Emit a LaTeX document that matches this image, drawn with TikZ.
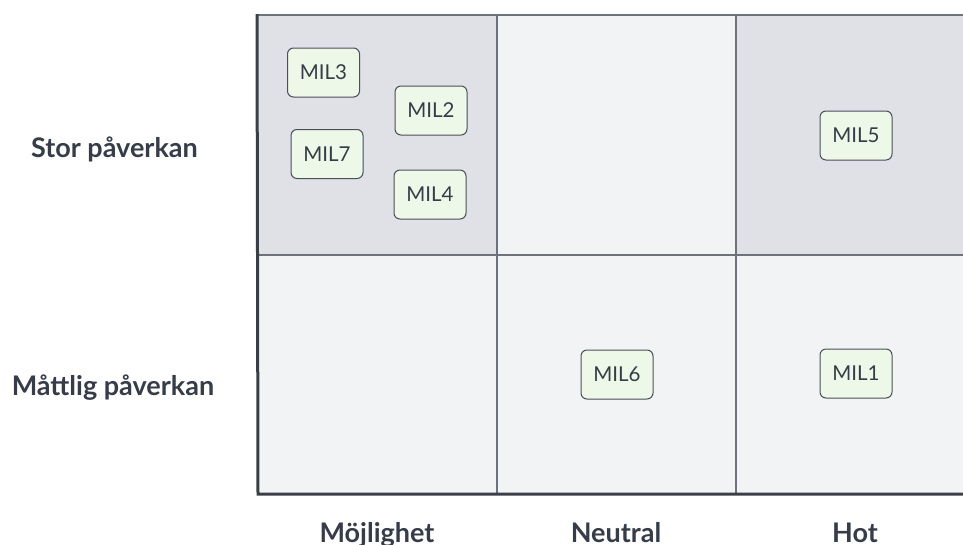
\documentclass[tikz,border=0pt]{standalone}
\usepackage{fontspec}
\setmainfont{Lato}
\begin{document}
\begin{tikzpicture}[x=1pt,y=-1pt,
  cellhi/.style={fill=cellhigh,draw=none},
  celllo/.style={fill=celllow,draw=none},
  gridline/.style={draw=gridgray,line width=1.2pt},
  axisline/.style={draw=axisdark,line width=3pt},
  milbox/.style={draw=boxedge,fill=boxfill,rounded corners=6pt,line width=1pt,
    minimum width=72pt,minimum height=49pt,inner sep=0pt,
    font=\fontsize{20.5}{24}\selectfont,text=textdark},
  rowlabel/.style={font=\bfseries\fontsize{27}{32}\selectfont,text=textdark,anchor=base},
  collabel/.style={font=\bfseries\fontsize{27}{32}\selectfont,text=textdark,anchor=base}]
\definecolor{cellhigh}{HTML}{DFE1E6}
\definecolor{celllow}{HTML}{F2F3F5}
\definecolor{gridgray}{HTML}{6E737B}
\definecolor{axisdark}{HTML}{3A3F47}
\definecolor{boxedge}{HTML}{4A4F57}
\definecolor{boxfill}{HTML}{EEF8E8}
\definecolor{textdark}{HTML}{363D48}
\useasboundingbox (0,0) rectangle (963,544);
% matrix cells
\fill[cellhi] (258,15) rectangle (497,255);
\fill[celllow] (497,15) rectangle (736,255);
\fill[cellhi] (736,15) rectangle (975,255);
\fill[celllow] (258,255) rectangle (975,493);
% inner grid lines
\coordinate (tl) at (258,15);
\coordinate (tr) at (975,15);
\coordinate (ml) at (258,255);
\coordinate (mr) at (975,255);
\coordinate (a1) at (497,15);
\coordinate (b1) at (497,493);
\coordinate (a2) at (736,15);
\coordinate (b2) at (736,493);
\coordinate (bl) at (258,494);
\coordinate (br) at (975,494);
\draw[gridline] (tl) -- (tr);
\draw[gridline] (ml) -- (mr);
\draw[gridline] (a1) -- (b1);
\draw[gridline] (a2) -- (b2);
% axes
\draw[axisline] (257,14) -- (bl) -- (br);
% items
\node[milbox] (mil3) at (323.5,72.5) {MIL3};
\node[milbox] (mil2) at (431,110.5) {MIL2};
\node[milbox] (mil7) at (327,154) {MIL7};
\node[milbox] (mil4) at (430,194.5) {MIL4};
\node[milbox] (mil5) at (856,135.5) {MIL5};
\node[milbox] (mil6) at (617,374.5) {MIL6};
\node[milbox] (mil1) at (856,373.5) {MIL1};
% labels
\node[rowlabel] (stor) at (114.5,157) {Stor påverkan};
\node[rowlabel] (mattlig) at (113,395) {Måttlig påverkan};
\node[collabel] (moj) at (377,542) {Möjlighet};
\node[collabel] (neu) at (616,542) {Neutral};
\node[collabel] (hot) at (855,542) {Hot};
\end{tikzpicture}
\end{document}
